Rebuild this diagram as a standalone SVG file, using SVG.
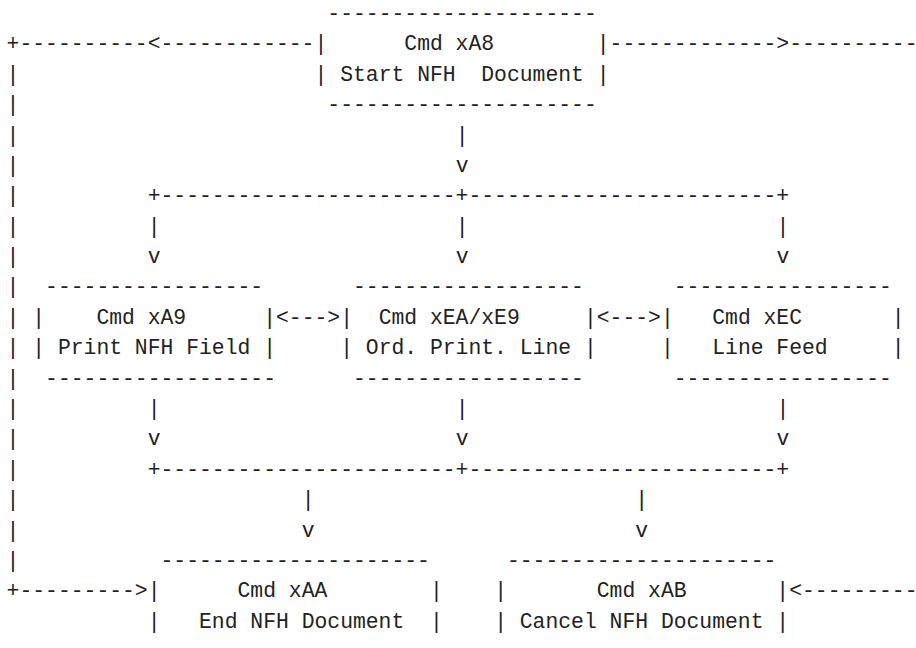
<svg xmlns="http://www.w3.org/2000/svg" width="916" height="648" viewBox="0 0 916 648" xml:space="preserve">
<style>
text { font-family: "Liberation Mono", "Courier New", monospace; font-size: 21.38px; fill: #222; white-space: pre; }
</style>
<rect width="916" height="648" fill="#ffffff"/>
<g id="connectors">
  <text x="6.6" y="50.3">+----------&lt;------------</text>
  <text x="609.61" y="50.3">-------------&gt;----------</text>
  <text x="6.6" y="80.7">|</text>
  <text x="6.6" y="111.1">|</text>
  <text x="6.6" y="141.5">|</text>
  <text x="6.6" y="171.9">|</text>
  <text x="6.6" y="202.2">|</text>
  <text x="6.6" y="232.6">|</text>
  <text x="6.6" y="263.0">|</text>
  <text x="6.6" y="293.4">|</text>
  <text x="6.6" y="323.8">|</text>
  <text x="6.6" y="354.2">|</text>
  <text x="6.6" y="384.6">|</text>
  <text x="6.6" y="415.0">|</text>
  <text x="6.6" y="445.4">|</text>
  <text x="6.6" y="475.8">|</text>
  <text x="6.6" y="506.1">|</text>
  <text x="6.6" y="536.5">|</text>
  <text x="6.6" y="566.9">|</text>
  <text x="6.6" y="597.3">+---------&gt;</text>
  <text x="789.23" y="597.3">&lt;---------</text>
  <text x="455.65" y="141.5">|</text>
  <text x="455.65" y="171.9">v</text>
  <text x="147.73" y="202.2">+-----------------------+------------------------+</text>
  <text x="147.73" y="232.6">|</text>
  <text x="455.65" y="232.6">|</text>
  <text x="776.4" y="232.6">|</text>
  <text x="147.73" y="263.0">v</text>
  <text x="455.65" y="263.0">v</text>
  <text x="776.4" y="263.0">v</text>
  <text x="276.03" y="323.8">&lt;---&gt;</text>
  <text x="596.78" y="323.8">&lt;---&gt;</text>
  <text x="147.73" y="415.0">|</text>
  <text x="455.65" y="415.0">|</text>
  <text x="776.4" y="415.0">|</text>
  <text x="147.73" y="445.4">v</text>
  <text x="455.65" y="445.4">v</text>
  <text x="776.4" y="445.4">v</text>
  <text x="147.73" y="475.8">+-----------------------+------------------------+</text>
  <text x="301.69" y="506.1">|</text>
  <text x="635.27" y="506.1">|</text>
  <text x="301.69" y="536.5">v</text>
  <text x="635.27" y="536.5">v</text>
</g>
<g id="node-xA8">
  <text x="327.35" y="19.9">---------------------</text>
  <text x="314.52" y="50.3">|      Cmd xA8        |</text>
  <text x="314.52" y="80.7">| Start NFH  Document |</text>
  <text x="327.35" y="111.1">---------------------</text>
</g>
<g id="node-xA9">
  <text x="45.09" y="293.4">-----------------</text>
  <text x="32.26" y="323.8">|    Cmd xA9      |</text>
  <text x="32.26" y="354.2">| Print NFH Field |</text>
  <text x="45.09" y="384.6">------------------</text>
</g>
<g id="node-xEA">
  <text x="353.01" y="293.4">------------------</text>
  <text x="340.18" y="323.8">|  Cmd xEA/xE9     |</text>
  <text x="340.18" y="354.2">| Ord. Print. Line |</text>
  <text x="353.01" y="384.6">------------------</text>
</g>
<g id="node-xEC">
  <text x="673.76" y="293.4">-----------------</text>
  <text x="660.93" y="323.8">|   Cmd xEC       |</text>
  <text x="660.93" y="354.2">|   Line Feed     |</text>
  <text x="673.76" y="384.6">-----------------</text>
</g>
<g id="node-xAA">
  <text x="160.56" y="566.9">---------------------</text>
  <text x="147.73" y="597.3">|      Cmd xAA        |</text>
  <text x="147.73" y="627.7">|   End NFH Document  |</text>
</g>
<g id="node-xAB">
  <text x="506.97" y="566.9">---------------------</text>
  <text x="494.14" y="597.3">|       Cmd xAB       |</text>
  <text x="494.14" y="627.7">| Cancel NFH Document |</text>
</g>
</svg>
